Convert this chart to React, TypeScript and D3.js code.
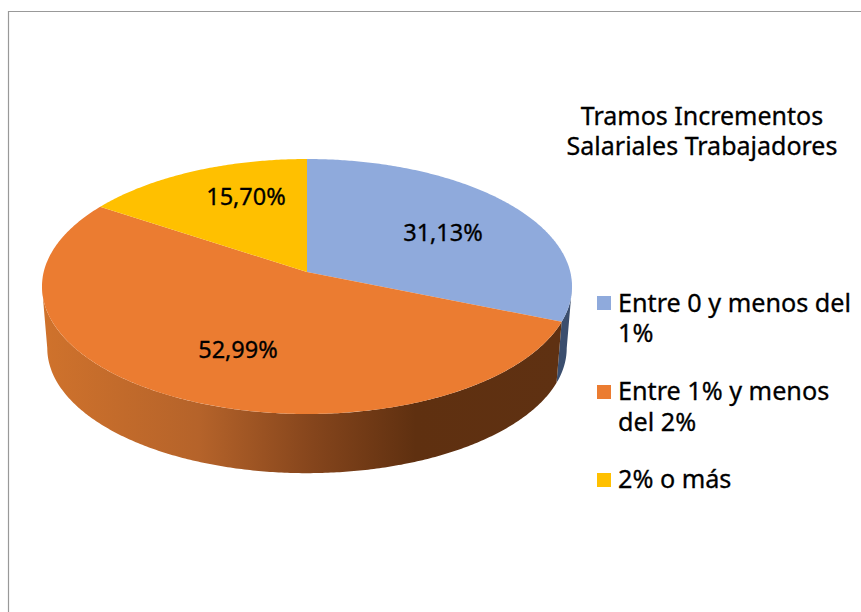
import React from "react";
import * as d3 from "d3";

const categories = ["Entre 0 y menos del 1%", "Entre 1% y menos del 2%", "2% o más"];
const values = [31.13, 52.99, 15.7];
const valueLabels = ["31,13%", "52,99%", "15,70%"];
const topColors = ["#8faadc", "#eb7c31", "#ffc000"];
const legendLines = [["Entre 0 y menos del", "1%"], ["Entre 1% y menos", "del 2%"], ["2% o más"]];
const titleLines = ["Tramos Incrementos", "Salariales Trabajadores"];

const FONT = "'Noto Sans', sans-serif";
const W = 861, H = 612;
const CX = 307, CY = 272, KX = 263.3, KZ = 125.85, P = 0.1137;
const SHIFT = 62, Q = 0.98;

function project(a: number, r = 1, bottom = false): [number, number] {
  const x = r * Math.sin(a), z = r * Math.cos(a);
  const s = 1 / (1 + P * z);
  const q = bottom ? Q : 1;
  return [CX + q * KX * x * s, CY + (bottom ? SHIFT : 0) - q * KZ * z * s];
}

const arcs = d3.pie<number>().sort(null)(values);
const line = d3.line();
const rad = (d: number) => (d * Math.PI) / 180;

function sample(a0: number, a1: number) {
  const n = Math.max(2, Math.ceil(Math.abs(a1 - a0) / 0.01));
  return d3.range(n + 1).map((i) => a0 + ((a1 - a0) * i) / n);
}

const wallMin = rad(96.5), wallMax = rad(263.5);
const labelPos = [[443, 241], [238, 358], [246, 205]];
const legendY = [[296, 312, 342], [385, 400, 431], [473, 488]];
const heavy = { stroke: "#000", strokeWidth: 0.3 };

export default function App() {
  return (
    <svg width={W} height={H} style={{ position: "absolute", left: 0, top: 0 }}>
      <defs>
        <linearGradient id="sideO" gradientUnits="userSpaceOnUse" x1={45} x2={560} y1={0} y2={0}>
          <stop offset="0" stopColor="#cf722c" />
          <stop offset="0.3" stopColor="#b5632a" />
          <stop offset="0.52" stopColor="#85451c" />
          <stop offset="0.72" stopColor="#5f3010" />
          <stop offset="1" stopColor="#5f3112" />
        </linearGradient>
      </defs>
      <rect width={W} height={H} fill="#fff" />
      <path d="M8.5 612V11.5H861" fill="none" stroke="#999" strokeWidth={1.2} />
      {arcs.map((d, i) => {
        const a0 = Math.max(d.startAngle, wallMin), a1 = Math.min(d.endAngle, wallMax);
        if (a1 <= a0) return null;
        const angs = sample(a0, a1);
        const pts = [...angs.map((a) => project(a)), ...angs.slice().reverse().map((a) => project(a, 1, true))];
        return <path key={i} d={line(pts as [number, number][]) + "Z"} fill={i === 0 ? "#3b4e6e" : "url(#sideO)"} />;
      })}
      {arcs.map((d, i) => {
        const pts = [[CX, CY], ...sample(d.startAngle, d.endAngle).map((a) => project(a))];
        return <path key={i} d={line(pts as [number, number][]) + "Z"} fill={topColors[i]} />;
      })}
      {valueLabels.map((t, i) => (
        <text key={t} x={labelPos[i][0]} y={labelPos[i][1]} textAnchor="middle" fontFamily={FONT} fontSize={23.5} fill="#000" {...heavy}>{t}</text>
      ))}
      {titleLines.map((t, i) => (
        <text key={t} x={702} y={125 + i * 30} textAnchor="middle" fontFamily={FONT} fontSize={25} fill="#000" {...heavy}>{t}</text>
      ))}
      {categories.map((c, i) => (
        <g key={c}>
          <rect x={597} y={legendY[i][0]} width={14} height={14} fill={topColors[i]} />
          {legendLines[i].map((t, j) => (
            <text key={t} x={618} y={legendY[i][j + 1]} fontFamily={FONT} fontSize={25.2} fill="#000" {...heavy}>{t}</text>
          ))}
        </g>
      ))}
    </svg>
  );
}
